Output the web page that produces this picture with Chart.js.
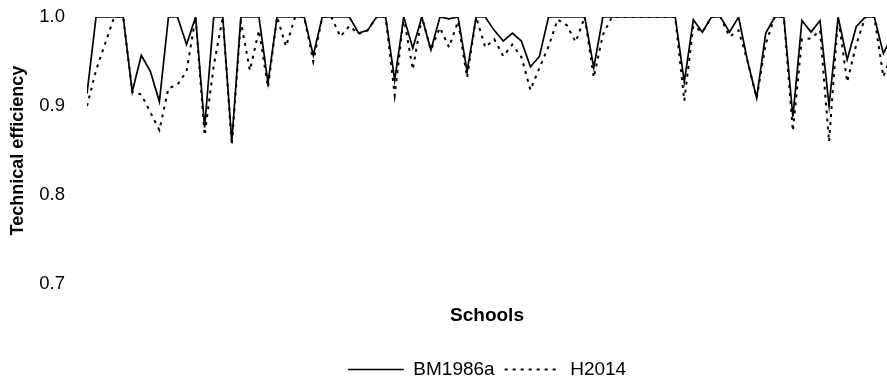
<!DOCTYPE html>
<html>
<head>
<meta charset="utf-8">
<script src="https://cdn.jsdelivr.net/npm/chart.js@4/dist/chart.umd.min.js"></script>
<style>
  html, body { margin: 0; padding: 0; background: #fff; overflow: hidden; }
  #wrap { width: 887px; height: 386px; position: relative; }
</style>
</head>
<body>
<div id="wrap"><canvas id="te-chart"></canvas></div>
<script>
// school numbers (x axis, one per DMU)
const schools = [
   1,  2,  3,  4,  5,  6,  7,  8,  9, 10, 11, 12, 13, 14, 15, 16, 17, 18, 19, 20,
  21, 22, 23, 24, 25, 26, 27, 28, 29, 30, 31, 32, 33, 34, 35, 36, 37, 38, 39, 40,
  41, 42, 43, 44, 45, 46, 47, 48, 49, 50, 51, 52, 53, 54, 55, 56, 57, 58, 59, 60,
  61, 62, 63, 64, 65, 66, 67, 68, 69, 70, 71, 72, 73, 74, 75, 76, 77, 78, 79, 80,
  81, 82, 83, 84, 85, 86, 87, 88, 89, 90
];

// technical efficiency, BM1986a model (solid line)
const bm1986a = [
  0.914, 1.000, 1.000, 1.000, 1.000, 0.916, 0.957, 0.939, 0.905, 1.000,
  1.000, 0.969, 1.000, 0.876, 1.000, 1.000, 0.860, 1.000, 1.000, 1.000,
  0.926, 1.000, 1.000, 1.000, 1.000, 0.957, 1.000, 1.000, 1.000, 1.000,
  0.982, 0.985, 1.000, 1.000, 0.929, 1.000, 0.965, 1.000, 0.963, 1.000,
  0.998, 1.000, 0.939, 1.000, 1.000, 0.985, 0.973, 0.982, 0.973, 0.944,
  0.956, 1.000, 1.000, 1.000, 1.000, 1.000, 0.943, 1.000, 1.000, 1.000,
  1.000, 1.000, 1.000, 1.000, 1.000, 1.000, 0.927, 0.997, 0.983, 1.000,
  1.000, 0.983, 1.000, 0.950, 0.909, 0.982, 1.000, 1.000, 0.888, 0.996,
  0.983, 0.996, 0.900, 1.000, 0.952, 0.989, 1.000, 1.000, 0.959, 0.980
];

// technical efficiency, H2014 model (dotted line)
const h2014 = [
  0.900, 0.940, 0.970, 1.000, 1.000, 0.916, 0.913, 0.893, 0.873, 0.920,
  0.924, 0.939, 1.000, 0.867, 0.945, 1.000, 0.856, 0.995, 0.940, 0.985,
  0.921, 1.000, 0.967, 1.000, 1.000, 0.950, 1.000, 1.000, 0.978, 0.990,
  0.981, 0.985, 1.000, 1.000, 0.912, 1.000, 0.941, 1.000, 0.963, 0.988,
  0.966, 0.995, 0.932, 1.000, 0.966, 0.975, 0.956, 0.969, 0.955, 0.918,
  0.943, 0.967, 0.997, 0.991, 0.972, 1.000, 0.932, 0.980, 1.000, 1.000,
  1.000, 1.000, 1.000, 1.000, 1.000, 1.000, 0.906, 0.990, 0.983, 1.000,
  1.000, 0.978, 0.985, 0.950, 0.909, 0.970, 1.000, 1.000, 0.872, 0.975,
  0.976, 0.985, 0.860, 1.000, 0.927, 0.969, 1.000, 1.000, 0.933, 0.960
];

const yTicks = [0.7, 0.8, 0.9, 1.0];

const FONT = '"Liberation Sans", Arial, Helvetica, sans-serif';
Chart.defaults.font.family = FONT;
Chart.defaults.color = '#000';

new Chart(document.getElementById('te-chart'), {
    type: 'line',
    data: {
        labels: schools,
        datasets: [
            {
                label: 'BM1986a',
                data: bm1986a,
                borderColor: '#000',
                backgroundColor: '#000',
                borderWidth: 1.7,
                pointRadius: 0,
                tension: 0,
                fill: false
            },
            {
                label: 'H2014',
                data: h2014,
                borderColor: '#000',
                backgroundColor: '#000',
                borderWidth: 2,
                borderDash: [3, 5],
                pointRadius: 0,
                tension: 0,
                fill: false
            }
        ]
    },
    options: {
        responsive: true,
        maintainAspectRatio: false,
        animation: false,
        plugins: {
            legend: {
                position: 'bottom',
                fullSize: false,
                labels: {
                    usePointStyle: true,
                    pointStyle: 'line',
                    pointStyleWidth: 56,
                    padding: 10,
                    color: '#000',
                    font: { size: 19 },
                    generateLabels: function (chart) {
                        const items = Chart.defaults.plugins.legend.labels.generateLabels(chart);
                        items.forEach(function (it) {
                            const ds = chart.data.datasets[it.datasetIndex];
                            it.lineDash = ds.borderDash || [];
                            it.lineWidth = ds.borderWidth;
                        });
                        return items;
                    }
                }
            },
            title: { display: false },
            tooltip: { enabled: false }
        },
        scales: {
            x: {
                type: 'linear',
                min: 1,
                max: 89.4,
                grid: { display: false, drawTicks: false },
                border: { display: false },
                ticks: { display: false },
                title: {
                    display: true,
                    text: 'Schools',
                    color: '#000',
                    font: { size: 19, weight: 'bold' },
                    padding: { top: 20, bottom: 23 }
                }
            },
            y: {
                min: 0.7,
                max: 1.0,
                afterBuildTicks: function (axis) {
                    axis.ticks = yTicks.map(function (v) { return { value: v }; });
                },
                afterFit: function (axis) { axis.width = 87; },
                grid: { display: false, drawTicks: true, tickLength: 22 },
                border: { display: false },
                ticks: {
                    padding: 0,
                    color: '#000',
                    font: { size: 18.5 },
                    callback: function (v) { return Number(v).toFixed(1); }
                },
                title: {
                    display: true,
                    text: 'Technical efficiency',
                    color: '#000',
                    font: { size: 18, weight: 'bold' },
                    padding: { top: 7, bottom: 10 }
                }
            }
        },
        layout: {
            padding: { left: 0, right: 0, top: 17, bottom: -3 }
        }
    }
});
</script>
</body>
</html>
